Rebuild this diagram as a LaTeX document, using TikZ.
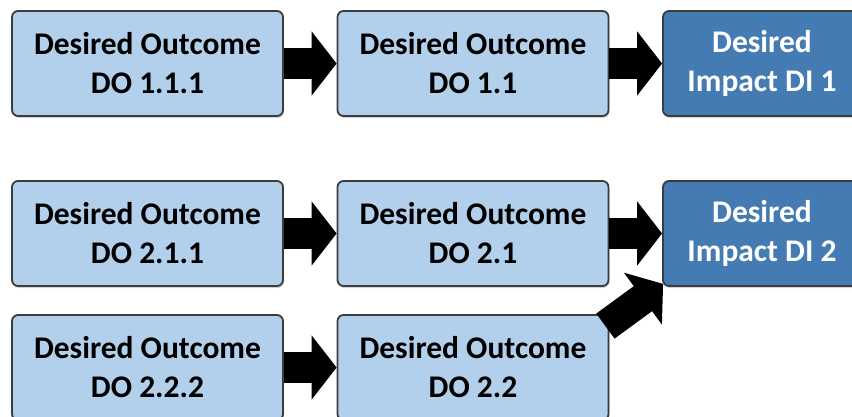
\documentclass[tikz,border=0pt]{standalone}
\usepackage{fontspec}
\setmainfont{Carlito}
\usetikzlibrary{arrows.meta,shadows}

\definecolor{outcomeblue}{RGB}{178,207,235}
\definecolor{impactblue}{RGB}{68,123,178}
\definecolor{boxline}{RGB}{60,60,60}

\begin{document}
\begin{tikzpicture}[x=1pt, y=-1pt,
  outcome/.style={rectangle, draw=boxline, line width=1.8pt, rounded corners=6pt,
                  fill=outcomeblue, minimum width=271pt, minimum height=105pt,
                  inner sep=0pt, align=center, text=black,
                  font=\bfseries\fontsize{31.5}{39}\selectfont,
                  drop shadow={shadow xshift=1pt, shadow yshift=-2pt, opacity=0.35}},
  impact/.style={outcome, fill=impactblue, text=white, minimum width=198pt},
  fat/.style={-{Triangle[length=25pt, width=63pt]}, line width=31pt, black}
]
  \useasboundingbox (0,0) rectangle (852,417);
  \clip (0,0) rectangle (852,417);

  % row 1
  \node[outcome] (A) at (147.5,63.5) {Desired Outcome\\DO 1.1.1};
  \node[outcome] (B) at (473,63.5) {Desired Outcome\\DO 1.1};
  \node[impact] (I1) at (762,63.5) {Desired\\Impact DI 1};

  % row 2 and 3
  \node[outcome] (C) at (147.5,233.5) {Desired Outcome\\DO 2.1.1};
  \node[outcome] (D) at (473,233.5) {Desired Outcome\\DO 2.1};
  \node[impact] (I2) at (762,233.5) {Desired\\Impact DI 2};
  \node[outcome] (E) at (147.5,367.5) {Desired Outcome\\DO 2.2.2};
  \node[outcome] (F) at (473,367.5) {Desired Outcome\\DO 2.2};

  \draw[fat] (A.east) -- (B.west);
  \draw[fat] (B.east) -- (I1.west);
  \draw[fat] (C.east) -- (D.west);
  \draw[fat] (D.east) -- (I2.west);
  \draw[fat] (E.east) -- (F.west);
  \draw[fat] ([xshift=-4pt,yshift=-12pt]F.north east) -- ([xshift=1pt,yshift=3pt]I2.south west);
\end{tikzpicture}
\end{document}
